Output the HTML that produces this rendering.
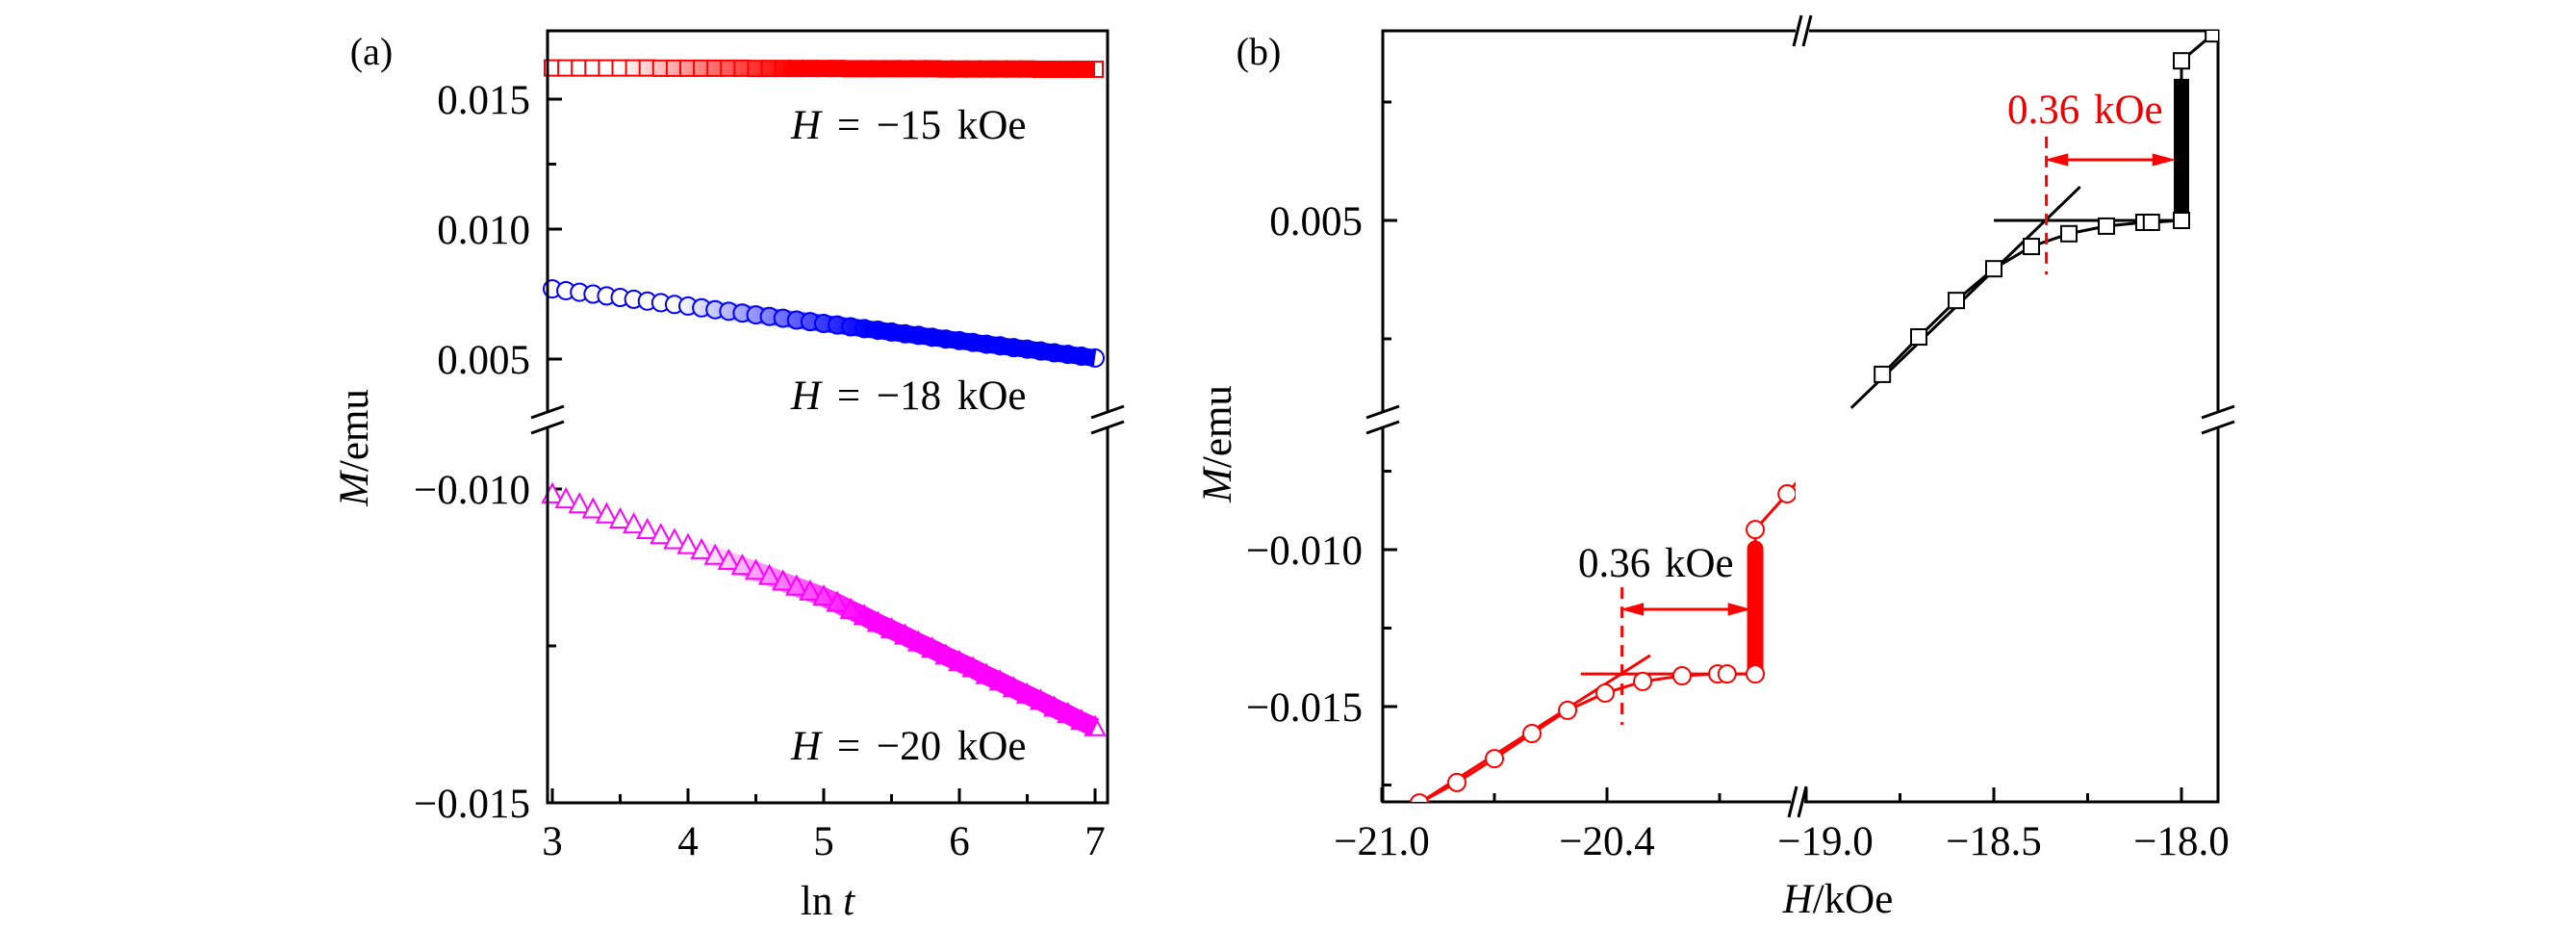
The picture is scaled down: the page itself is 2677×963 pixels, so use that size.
<!DOCTYPE html>
<html><head><meta charset="utf-8"><style>
html,body{margin:0;padding:0;background:#fff;}
svg{display:block;font-family:"Liberation Serif",serif;}
</style></head><body>
<svg id="fig" width="2677" height="963" viewBox="0 0 2677 963" xmlns="http://www.w3.org/2000/svg">
<defs>
<linearGradient id="gRed" gradientUnits="userSpaceOnUse" x1="640" y1="0" x2="820" y2="0"><stop offset="0" stop-color="#f00" stop-opacity="0"/><stop offset="1" stop-color="#f00" stop-opacity="1"/></linearGradient>
<linearGradient id="gBlue" gradientUnits="userSpaceOnUse" x1="700" y1="0" x2="900" y2="0"><stop offset="0" stop-color="#00f" stop-opacity="0"/><stop offset="1" stop-color="#00f" stop-opacity="1"/></linearGradient>
<linearGradient id="gMag" gradientUnits="userSpaceOnUse" x1="720" y1="0" x2="900" y2="0"><stop offset="0" stop-color="#f0f" stop-opacity="0"/><stop offset="1" stop-color="#f0f" stop-opacity="1"/></linearGradient>
</defs>
<g id="pa"></g>
<g id="pb"></g>
</svg>
<script>
// ---------- Panel (a) data ----------
const lnT = [3.0,3.1,3.2,3.3,3.4,3.5,3.6,3.7,3.8,3.9,4.0,4.1,4.2,4.3,4.4,4.5,4.6,4.7,4.8,4.9,5.0,5.1,5.2,5.3,5.4,5.5,5.6,5.7,5.8,5.9,6.0,6.1,6.2,6.3,6.4,6.5,6.6,6.7,6.8,6.9,7.0];
const mH15 = [0.01620,0.01620,0.01620,0.01620,0.01620,0.01620,0.01620,0.01620,0.01619,0.01619,0.01619,0.01619,0.01619,0.01619,0.01619,0.01618,0.01618,0.01618,0.01618,0.01618,0.01618,0.01618,0.01617,0.01617,0.01617,0.01617,0.01617,0.01617,0.01617,0.01616,0.01616,0.01616,0.01616,0.01616,0.01616,0.01616,0.01615,0.01615,0.01615,0.01615,0.01615];
const mH18 = [0.00770,0.00763,0.00757,0.00750,0.00743,0.00737,0.00730,0.00723,0.00717,0.00710,0.00704,0.00697,0.00690,0.00684,0.00677,0.00670,0.00664,0.00657,0.00650,0.00644,0.00637,0.00631,0.00624,0.00617,0.00611,0.00604,0.00597,0.00591,0.00584,0.00577,0.00571,0.00564,0.00557,0.00551,0.00544,0.00538,0.00531,0.00524,0.00518,0.00511,0.00504];
const mH20 = [-0.01009,-0.01017,-0.01025,-0.01033,-0.01041,-0.01049,-0.01057,-0.01066,-0.01074,-0.01082,-0.01090,-0.01098,-0.01107,-0.01115,-0.01123,-0.01131,-0.01139,-0.01148,-0.01156,-0.01164,-0.01172,-0.01182,-0.01193,-0.01203,-0.01214,-0.01224,-0.01234,-0.01245,-0.01255,-0.01266,-0.01276,-0.01286,-0.01297,-0.01307,-0.01318,-0.01328,-0.01338,-0.01349,-0.01359,-0.01370,-0.01380];
const aXTicks = [3,4,5,6,7];
const aXMinor = [3.5,4.5,5.5,6.5];
const aYTicks = [0.015,0.010,0.005,-0.010,-0.015];
const aYTickLabels = ["0.015","0.010","0.005","\u22120.010","\u22120.015"];
const aYMinor = [0.0125,-0.0125];
const aNotes = ["\u221215","\u221218","\u221220"];

// ---------- Panel (b) data ----------
const redH = [-20.90,-20.80,-20.70,-20.60,-20.505,-20.405,-20.305,-20.20,-20.105,-20.08,-20.005,-20.005,-19.92];
const redM = [-0.01807,-0.01742,-0.01666,-0.01586,-0.01512,-0.01457,-0.01420,-0.01402,-0.01396,-0.01396,-0.01396,-0.00936,-0.00822];
const blkH = [-18.797,-18.70,-18.60,-18.50,-18.40,-18.30,-18.20,-18.10,-18.08,-18.00,-18.00,-17.915];
const blkM = [0.00175,0.00254,0.00331,0.00398,0.00445,0.00472,0.00488,0.00496,0.00496,0.00500,0.00837,0.00894];
const redBar = [-20.005,-0.01396,-0.00997];
const blkBar = [-18.00,0.00500,0.00799];
const redSlope = [-20.93,-0.01830,-20.285,-0.01337];
const redFlat = [-20.47,-20.005,-0.01396];
const blkSlope = [-18.88,0.00104,-18.27,0.00571];
const blkFlat = [-18.50,-18.00,0.00500];
const redDash = [-20.36,-0.01120,-0.01558];
const blkDash = [-18.36,0.00677,0.00386];
const redArrow = [-20.36,-20.02,-0.01190];
const blkArrow = [-18.36,-18.02,0.00628];
const bXTicks = [-21.0,-20.4,-19.0,-18.5,-18.0];
const bXTickLabels = ["\u221221.0","\u221220.4","\u221219.0","\u221218.5","\u221218.0"];
const bXMinor = [-20.7,-20.1,-18.75,-18.25];
const bYTicks = [0.005,-0.010,-0.015];
const bYTickLabels = ["0.005","\u22120.010","\u22120.015"];
const bYMinor = [0.0075,0.0025,-0.0075,-0.0125,-0.0175];

const NS="http://www.w3.org/2000/svg";
const FS=43;
function mk(parent,tag,attrs){const e=document.createElementNS(NS,tag);for(const k in attrs)e.setAttribute(k,attrs[k]);parent.appendChild(e);return e;}

// ---------- Panel (a) axes ----------
const A={L:569,R:1151,T:32,B:834};
function ax(v){return 574+(v-3)*141;}
function ay(v){return v>-0.004?238-(v-0.010)/0.005*135:508+(-0.010-v)/0.005*326;}
const pa=document.getElementById('pa');
let e;
aXTicks.forEach((v,i)=>{
  e=mk(pa,'line',{x1:ax(v),x2:ax(v),y1:A.B,y2:A.B-15,stroke:'#000','stroke-width':3});
  
  
  e=mk(pa,'text',{x:ax(v),y:888,'font-size':FS,'text-anchor':'middle'});e.textContent=String(v);
  
  
});
aXMinor.forEach(v=>{e=mk(pa,'line',{x1:ax(v),x2:ax(v),y1:A.B,y2:A.B-9,stroke:'#000','stroke-width':3});
  
  });
aYTicks.forEach((v,i)=>{
  e=mk(pa,'line',{x1:A.L,x2:A.L+15,y1:ay(v),y2:ay(v),stroke:'#000','stroke-width':3});
  
  
  e=mk(pa,'text',{x:551,y:ay(v)+15,'font-size':FS,'text-anchor':'end'});e.textContent=aYTickLabels[i];
  
  
});
aYMinor.forEach(v=>{e=mk(pa,'line',{x1:A.L,x2:A.L+9,y1:ay(v),y2:ay(v),stroke:'#000','stroke-width':3});
  
  });
function brk(parent,x,y,name){
  mk(parent,'rect',{x:x-6,y:y-7,width:12,height:14,fill:'#fff'});
  const g=mk(parent,'g',{stroke:'#000','stroke-width':3});
  
  
  mk(g,'line',{x1:x-17,y1:y-2,x2:x+17,y2:y-14});
  mk(g,'line',{x1:x-17,y1:y+14,x2:x+17,y2:y+2});
}
function brkV(parent,x,y,name){
  mk(parent,'rect',{x:x-7,y:y-6,width:14,height:12,fill:'#fff'});
  const g=mk(parent,'g',{stroke:'#000','stroke-width':3});
  
  
  mk(g,'line',{x1:x-9,y1:y+16,x2:x-1,y2:y-16});
  mk(g,'line',{x1:x+1,y1:y+16,x2:x+9,y2:y-16});
}
function series(parent,xs,ys,fx,fy,shape,color,grad,bw,name){
  const g=mk(parent,'g',{fill:'#fff',stroke:color,'stroke-width':2});
  
  
  xs.forEach((v,i)=>{
    const X=fx(v),Y=fy(ys[i]);let m;
    if(shape==='sq') m=mk(g,'rect',{x:X-8,y:Y-8,width:16,height:16});
    else if(shape==='ci') m=mk(g,'circle',{cx:X,cy:Y,r:9});
    else m=mk(g,'polygon',{points:`${X},${Y-11} ${X-10},${Y+8} ${X+10},${Y+8}`});
    
    
  });
  const pts=xs.map((v,i)=>fx(v)+','+fy(ys[i])).join(' ');
  const band=mk(parent,'polyline',{points:pts,fill:'none',stroke:'url(#'+grad+')','stroke-width':bw});
  
  
}
series(pa,lnT,mH15,ax,ay,'sq','#f00','gRed',17,'series-h-15');
series(pa,lnT,mH18,ax,ay,'ci','#00f','gBlue',18,'series-h-18');
series(pa,lnT,mH20,ax,ay,'tr','#f0f','gMag',20,'series-h-20');
e=mk(pa,'rect',{x:A.L,y:A.T,width:A.R-A.L,height:A.B-A.T,fill:'none',stroke:'#000','stroke-width':3});


brk(pa,A.L,436,'y-axis-break-left-a');
brk(pa,A.R,436,'y-axis-break-right-a');
[129,410,774].forEach((y,i)=>{
  e=mk(pa,'text',{x:822,y:y+15,'font-size':FS,'word-spacing':6});
  e.innerHTML='<tspan font-style="italic">H</tspan> = '+aNotes[i]+' kOe';
  
  
});
e=mk(pa,'text',{x:386,y:67,'font-size':40,'text-anchor':'middle'});e.textContent='(a)';


e=mk(pa,'text',{x:860,y:950,'font-size':FS,'text-anchor':'middle'});e.innerHTML='ln <tspan font-style="italic">t</tspan>';


e=mk(pa,'text',{x:0,y:0,'font-size':FS,'text-anchor':'middle',transform:'translate(382,465) rotate(-90)'});e.innerHTML='<tspan font-style="italic">M</tspan>/emu';



// ---------- Panel (b) ----------
const B={L:1437,R:2305,T:32,B:833};
function bx(h){return h<-19.5?1436+(h+21)*390:1877+(h+19)*390;}
function by(m){return m>-0.003?229-(m-0.005)/0.005*246:571+(-0.010-m)/0.005*163;}
const pb=document.getElementById('pb');
const clipD=mk(pb,'defs',{});
const cpL=mk(clipD,'clipPath',{id:'bclipL'});mk(cpL,'rect',{x:B.L,y:440,width:1866-B.L,height:B.B-440});
const cpU=mk(clipD,'clipPath',{id:'bclipU'});mk(cpU,'rect',{x:1880,y:B.T,width:B.R-1880,height:430-B.T});
e=mk(pb,'rect',{x:B.L,y:B.T,width:B.R-B.L,height:B.B-B.T,fill:'none',stroke:'#000','stroke-width':3});


bXTicks.forEach((v,i)=>{
  e=mk(pb,'line',{x1:bx(v),x2:bx(v),y1:B.B,y2:B.B-15,stroke:'#000','stroke-width':3});
  
  
  e=mk(pb,'text',{x:bx(v)+(i===2?20:0),y:888,'font-size':FS,'text-anchor':'middle'});e.textContent=bXTickLabels[i];
  
  
});
bXMinor.forEach(v=>{e=mk(pb,'line',{x1:bx(v),x2:bx(v),y1:B.B,y2:B.B-9,stroke:'#000','stroke-width':3});
  
  });
bYTicks.forEach((v,i)=>{
  e=mk(pb,'line',{x1:B.L,x2:B.L+15,y1:by(v),y2:by(v),stroke:'#000','stroke-width':3});
  
  
  e=mk(pb,'text',{x:1416,y:by(v)+15,'font-size':FS,'text-anchor':'end'});e.textContent=bYTickLabels[i];
  
  
});
bYMinor.forEach(v=>{e=mk(pb,'line',{x1:B.L,x2:B.L+9,y1:by(v),y2:by(v),stroke:'#000','stroke-width':3});
  
  });
brk(pb,B.L,436,'y-axis-break-left-b');
brk(pb,B.R,436,'y-axis-break-right-b');
brkV(pb,1868,B.B,'x-axis-break-bottom-b');
brkV(pb,1873,B.T,'x-axis-break-top-b');

function line(parent,x1,y1,x2,y2,color,w,name,extra){
  const l=mk(parent,'line',Object.assign({x1,y1,x2,y2,stroke:color,'stroke-width':w},extra||{}));
  
  
  return l;
}
function poly(parent,hs,ms,color,name){
  const pts=hs.map((h,i)=>bx(h)+','+by(ms[i])).join(' ');
  const p=mk(parent,'polyline',{points:pts,fill:'none',stroke:color,'stroke-width':3});
  
  
}
const gr=mk(pb,'g',{'clip-path':'url(#bclipL)'});


line(gr,bx(redSlope[0]),by(redSlope[1]),bx(redSlope[2]),by(redSlope[3]),'#f00',3,'tangent-slope-red');
line(gr,bx(redFlat[0]),by(redFlat[2]),bx(redFlat[1]),by(redFlat[2]),'#f00',3,'tangent-flat-red');
poly(gr,redH.concat([-19.87]),redM.concat([-0.0075]),'#f00','red-curve');
line(gr,bx(redBar[0]),by(redBar[1]),bx(redBar[0]),by(redBar[2]),'#f00',17,'relaxation-bar-red',{'stroke-linecap':'round'});
redH.forEach((h,i)=>{const c=mk(gr,'circle',{cx:bx(h),cy:by(redM[i]),r:9,fill:'#fff',stroke:'#f00','stroke-width':2});
  
  });
const gb=mk(pb,'g',{'clip-path':'url(#bclipU)'});


line(gb,bx(blkSlope[0]),by(blkSlope[1]),bx(blkSlope[2]),by(blkSlope[3]),'#000',3,'tangent-slope-black');
line(gb,bx(blkFlat[0]),by(blkFlat[2]),bx(blkFlat[1]),by(blkFlat[2]),'#000',3,'tangent-flat-black');
poly(gb,blkH,blkM,'#000','black-curve');
line(gb,bx(blkBar[0]),by(blkBar[1]),bx(blkBar[0]),by(blkBar[2]),'#000',16,'relaxation-bar-black');
blkH.forEach((h,i)=>{const r=mk(gb,'rect',{x:bx(h)-8,y:by(blkM[i])-8,width:16,height:16,fill:'#fff',stroke:'#000','stroke-width':2});
  
  });
line(pb,bx(redDash[0]),by(redDash[1]),bx(redDash[0]),by(redDash[2]),'#f00',3,'dashed-marker-lower',{'stroke-dasharray':'12,8'});
line(pb,bx(blkDash[0]),by(blkDash[1]),bx(blkDash[0]),by(blkDash[2]),'#f00',3,'dashed-marker-upper',{'stroke-dasharray':'12,8'});
function arrow(x1,x2,y,name){
  const g=mk(pb,'g',{fill:'#f00',stroke:'#f00'});
  
  
  mk(g,'line',{x1:x1+15,x2:x2-15,y1:y,y2:y,'stroke-width':3});
  mk(g,'polygon',{points:`${x1},${y} ${x1+22},${y-6} ${x1+22},${y+6}`,'stroke-width':1});
  mk(g,'polygon',{points:`${x2},${y} ${x2-22},${y-6} ${x2-22},${y+6}`,'stroke-width':1});
}
arrow(bx(redArrow[0]),bx(redArrow[1]),by(redArrow[2]),'arrow-lower');
arrow(bx(blkArrow[0]),bx(blkArrow[1]),by(blkArrow[2]),'arrow-upper');
e=mk(pb,'text',{x:1640,y:599,'font-size':FS,'word-spacing':4,fill:'#000'});e.textContent='0.36 kOe';


e=mk(pb,'text',{x:2086,y:128,'font-size':FS,'word-spacing':4,fill:'#e00'});e.textContent='0.36 kOe';


e=mk(pb,'text',{x:1308,y:67,'font-size':40,'text-anchor':'middle'});e.textContent='(b)';


e=mk(pb,'text',{x:1910,y:948,'font-size':FS,'text-anchor':'middle'});e.innerHTML='<tspan font-style="italic">H</tspan>/kOe';


e=mk(pb,'text',{x:0,y:0,'font-size':FS,'text-anchor':'middle',transform:'translate(1279,461) rotate(-90)'});e.innerHTML='<tspan font-style="italic">M</tspan>/emu';


</script>
</body></html>
